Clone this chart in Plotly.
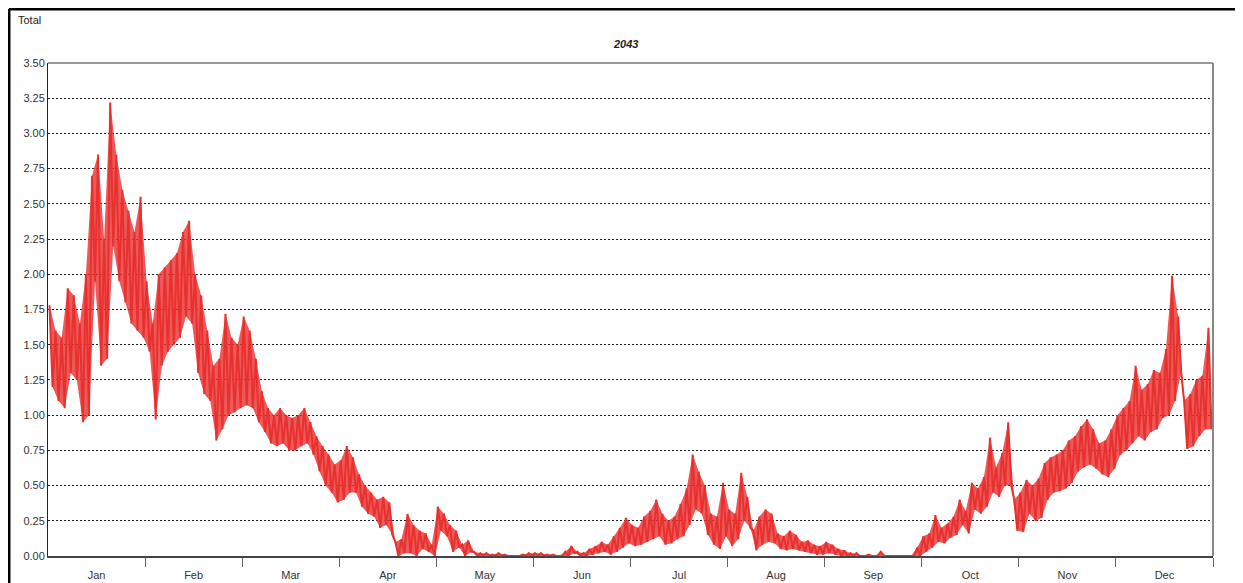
import plotly.graph_objects as go

# month labels on an evenly spaced category-like axis
months = ["Jan", "Feb", "Mar", "Apr", "May", "Jun",
          "Jul", "Aug", "Sep", "Oct", "Nov", "Dec"]

# 16 high / low swings per month
upper = [
    1.78, 1.60, 1.55, 1.90, 1.85, 1.65, 2.00, 2.70, 2.85, 2.25, 3.22, 2.85, 2.60, 2.45, 2.30, 2.55,  # Jan
    1.95, 1.65, 2.00, 2.05, 2.10, 2.15, 2.30, 2.38, 2.00, 1.85, 1.60, 1.35, 1.40, 1.72, 1.55, 1.50,  # Feb
    1.70, 1.60, 1.40, 1.17, 1.05, 1.00, 1.05, 1.00, 0.98, 1.00, 1.05, 0.95, 0.85, 0.78, 0.72, 0.65,  # Mar
    0.68, 0.78, 0.70, 0.58, 0.50, 0.45, 0.40, 0.42, 0.38, 0.10, 0.12, 0.30, 0.22, 0.18, 0.16, 0.08,  # Apr
    0.35, 0.30, 0.22, 0.18, 0.08, 0.11, 0.03, 0.02, 0.02, 0.01, 0.02, 0.01, 0.00, 0.00, 0.01, 0.02,  # May
    0.02, 0.02, 0.01, 0.01, 0.00, 0.03, 0.07, 0.03, 0.02, 0.05, 0.07, 0.10, 0.08, 0.14, 0.20, 0.27,  # Jun
    0.22, 0.20, 0.28, 0.32, 0.40, 0.30, 0.25, 0.28, 0.37, 0.48, 0.72, 0.60, 0.50, 0.30, 0.28, 0.52,  # Jul
    0.33, 0.30, 0.59, 0.42, 0.18, 0.28, 0.33, 0.30, 0.16, 0.14, 0.18, 0.15, 0.10, 0.11, 0.08, 0.07,  # Aug
    0.10, 0.08, 0.05, 0.04, 0.02, 0.02, 0.00, 0.01, 0.00, 0.03, 0.00, 0.00, 0.00, 0.00, 0.00, 0.06,  # Sep
    0.14, 0.16, 0.29, 0.20, 0.23, 0.28, 0.40, 0.32, 0.52, 0.48, 0.56, 0.84, 0.63, 0.73, 0.95, 0.40,  # Oct
    0.45, 0.54, 0.50, 0.55, 0.66, 0.70, 0.72, 0.75, 0.82, 0.85, 0.92, 0.97, 0.90, 0.80, 0.82, 0.90,  # Nov
    1.00, 1.05, 1.10, 1.35, 1.18, 1.22, 1.32, 1.30, 1.47, 1.99, 1.70, 1.10, 1.15, 1.25, 1.28, 1.62,  # Dec
]
lower = [
    1.20, 1.10, 1.05, 1.30, 1.25, 0.95, 1.00, 1.95, 1.35, 1.40, 2.20, 1.95, 1.80, 1.65, 1.60, 1.55,  # Jan
    1.45, 0.97, 1.35, 1.45, 1.50, 1.55, 1.70, 1.65, 1.30, 1.15, 1.10, 0.82, 0.90, 1.00, 1.02, 1.05,  # Feb
    1.07, 1.05, 0.95, 0.88, 0.80, 0.78, 0.80, 0.75, 0.75, 0.78, 0.80, 0.72, 0.60, 0.50, 0.45, 0.38,  # Mar
    0.40, 0.45, 0.45, 0.35, 0.30, 0.28, 0.20, 0.22, 0.15, 0.00, 0.02, 0.02, 0.00, 0.05, 0.03, 0.00,  # Apr
    0.18, 0.14, 0.03, 0.06, 0.00, 0.03, 0.00, 0.00, 0.00, 0.00, 0.00, 0.00, 0.00, 0.00, 0.00, 0.00,  # May
    0.00, 0.00, 0.00, 0.00, 0.00, 0.00, 0.02, 0.00, 0.00, 0.01, 0.02, 0.03, 0.01, 0.03, 0.06, 0.09,  # Jun
    0.07, 0.08, 0.10, 0.12, 0.14, 0.08, 0.09, 0.12, 0.14, 0.22, 0.33, 0.30, 0.15, 0.08, 0.05, 0.14,  # Jul
    0.07, 0.12, 0.25, 0.20, 0.04, 0.08, 0.10, 0.09, 0.05, 0.04, 0.05, 0.04, 0.03, 0.02, 0.01, 0.01,  # Aug
    0.02, 0.01, 0.00, 0.00, 0.00, 0.00, 0.00, 0.00, 0.00, 0.00, 0.00, 0.00, 0.00, 0.00, 0.00, 0.00,  # Sep
    0.03, 0.06, 0.10, 0.09, 0.13, 0.15, 0.22, 0.16, 0.33, 0.30, 0.35, 0.45, 0.42, 0.50, 0.50, 0.18,  # Oct
    0.17, 0.30, 0.25, 0.27, 0.40, 0.45, 0.46, 0.48, 0.52, 0.60, 0.63, 0.65, 0.62, 0.58, 0.56, 0.62,  # Nov
    0.72, 0.75, 0.80, 0.85, 0.82, 0.88, 0.90, 0.98, 1.00, 1.10, 1.30, 0.76, 0.78, 0.85, 0.90, 0.90,  # Dec
]

steps = 16
x_hi = [i // steps + (i % steps + 0.25) / steps for i in range(len(upper))]
x_lo = [i // steps + (i % steps + 0.75) / steps for i in range(len(lower))]

x_zig, y_zig = [], []
for xh, hi, xl, lo in zip(x_hi, upper, x_lo, lower):
    x_zig += [xh, xl]
    y_zig += [hi, lo]

RED = "#E8302E"
FONT = "Liberation Sans Narrow, Arial Narrow, Liberation Sans, Arial"

fig = go.Figure()
# shaded band between the daily highs and lows
fig.add_trace(go.Scatter(
    x=x_hi + x_lo[::-1],
    y=upper + lower[::-1],
    mode="lines",
    fill="toself",
    fillcolor="rgba(232,48,46,0.8)",
    line=dict(width=0),
    showlegend=False,
    hoverinfo="skip"
))
fig.add_trace(go.Scatter(
    x=x_zig,
    y=y_zig,
    mode="lines",
    line=dict(color=RED, width=2),
    showlegend=False,
    hoverinfo="skip"
))

fig.update_layout(
    width=1243,
    height=583,
    autosize=False,
    margin=dict(l=40, r=38, t=55, b=35),
    paper_bgcolor="white",
    plot_bgcolor="white",
    font=dict(family=FONT, size=11, color="#333"),
    xaxis=dict(
        range=[0, 12],
        tickvals=[i + 0.5 for i in range(12)],
        ticktext=months,
        ticks="",
        ticklabelstandoff=8,
        showgrid=False,
        zeroline=False,
        showline=True,
        linecolor="#444",
        linewidth=2,
        automargin=False,
        minor=dict(tickvals=list(range(1, 13)), ticks="outside",
                   ticklen=9, tickcolor="#666", tickwidth=1, showgrid=False),
    ),
    yaxis=dict(
        range=[0, 3.5],
        dtick=0.25,
        tickformat=".2f",
        ticks="",
        showgrid=True,
        gridcolor="#222",
        gridwidth=1,
        griddash="2px,2px",
        zeroline=False,
        showline=True,
        linecolor="#222",
        linewidth=1,
        automargin=False,
    ),
)

# frame top and right edge of the plot area
fig.add_shape(type="line", xref="paper", yref="paper", x0=0, x1=1, y0=1, y1=1,
              line=dict(color="#333", width=1))
fig.add_shape(type="line", xref="paper", yref="paper", x0=1, x1=1, y0=0, y1=1,
              line=dict(color="#888", width=2))

# outer border of the picture (kept just inside the figure's top-left edge)
fig.add_shape(type="line", xref="paper", yref="paper", x0=-0.0335, x1=1.1,
              y0=1.1095, y1=1.1095, line=dict(color="black", width=3))
fig.add_shape(type="line", xref="paper", yref="paper", x0=-0.0335, x1=-0.0335,
              y0=-0.2, y1=1.1095, line=dict(color="black", width=3))

fig.add_annotation(text="Total", xref="paper", yref="paper", x=-0.0275, y=1.087,
                   xanchor="left", yanchor="middle", showarrow=False,
                   font=dict(family=FONT, size=11, color="#222"))
fig.add_annotation(text="<b><i>2043</i></b>", xref="paper", yref="paper", x=0.496, y=1.0385,
                   xanchor="center", yanchor="middle", showarrow=False,
                   font=dict(family=FONT, size=11, color="#222"))

fig.write_html("out.html")
